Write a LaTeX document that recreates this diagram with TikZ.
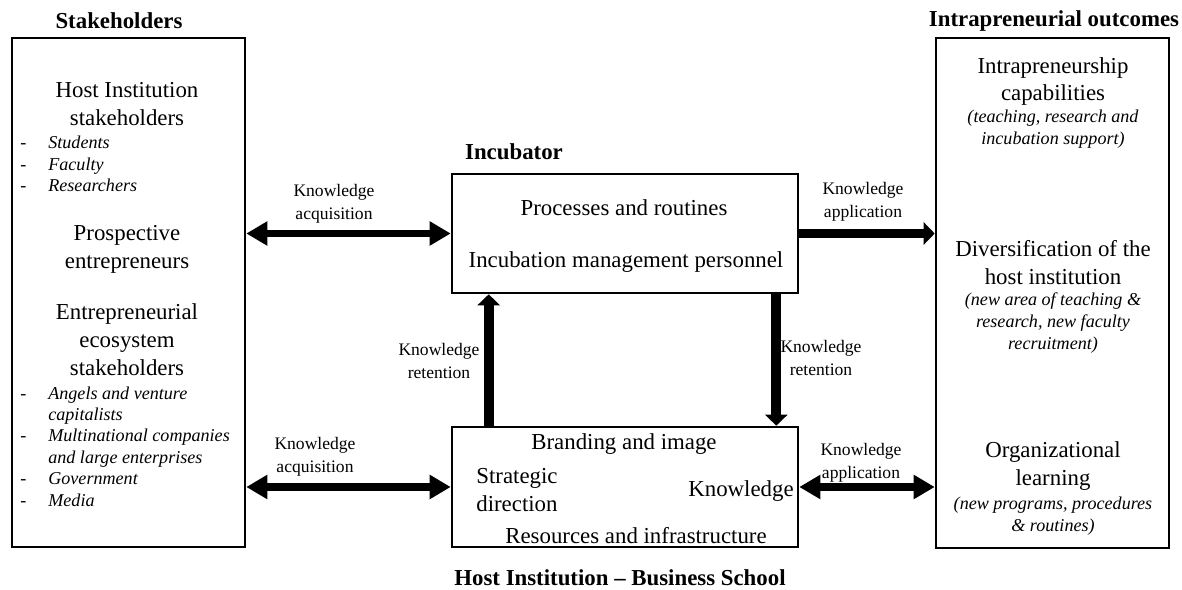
\documentclass[tikz,border=0pt]{standalone}
\usepackage{fontspec}
\setmainfont{Liberation Serif}
\usepackage{tikz}
\usetikzlibrary{arrows.meta, positioning, calc}
\usepackage{xcolor}

\newcommand{\dashitem}{\makebox[0.56cm][l]{\upshape -}}
\newcommand{\dashcont}{\hspace*{0.56cm}}

\begin{document}
\begin{tikzpicture}[
        x=0.02cm, y=-0.02cm,
        box/.style={rectangle, draw=black, line width=1.5pt, inner sep=0pt},
        big/.style={align=center, inner sep=0pt, font=\fontsize{13}{15.9}\selectfont},
        sub/.style={align=center, inner sep=0pt, font=\fontsize{10.3}{12.4}\selectfont\itshape},
        lst/.style={align=left, anchor=west, inner sep=0pt, font=\fontsize{10.3}{12.2}\selectfont\itshape},
        lbl/.style={align=center, inner sep=0pt, font=\fontsize{10}{13}\selectfont},
        ttl/.style={inner sep=0pt, font=\fontsize{13}{15}\selectfont\bfseries},
        dblarrow/.style={{Triangle[length=0.42cm, width=0.46cm]}-{Triangle[length=0.42cm, width=0.46cm]}, line width=4pt},
        fatarrow/.style={-{Triangle[length=0.22cm, width=0.44cm]}, line width=5.5pt},
    ]
        \useasboundingbox (0,0) rectangle (1182,590);

        % Cadres
        \node[box, minimum width=4.66cm, minimum height=10.18cm] (stake) at (128.5,292.5) {};
        \node[box, minimum width=4.66cm, minimum height=10.2cm] (outc) at (1052.5,293) {};
        \node[box, minimum width=6.92cm, minimum height=2.38cm] (inctop) at (625,233.5) {};
        \node[box, minimum width=6.92cm, minimum height=2.4cm] (incbot) at (625,487) {};

        % Titres
        \node[ttl] (ttlstake) at (119,21) {Stakeholders};
        \node[ttl] (ttloutc) at (1054,21) {Intrapreneurial outcomes};
        \node[ttl] (ttlinc) at (514,152) {Incubator};
        \node[ttl] (ttlhost) at (620,578) {Host Institution – Business School};

        % Parties prenantes
        \node[big] (host) at (127,104) {Host Institution\\stakeholders};
        \node[lst] (hostlist) at (20,164)
            {\dashitem Students\\ \dashitem Faculty\\ \dashitem Researchers};
        \node[big] (prosp) at (127,249) {Prospective\\entrepreneurs};
        \node[big] (eco) at (127,340) {Entrepreneurial\\ecosystem\\stakeholders};
        \node[lst] (ecolist) at (20,446.5)
            {\dashitem Angels and venture\\ \dashcont capitalists\\
             \dashitem Multinational companies\\ \dashcont and large enterprises\\
             \dashitem Government\\ \dashitem Media};

        % Incubateur
        \node[big] (proc) at (624,208) {Processes and routines};
        \node[big] (pers) at (626,262) {Incubation management personnel};
        \node[big] (brand) at (624,444) {Branding and image};
        \node[big, align=left, anchor=west] (strat) at (476,490.5) {Strategic\\direction};
        \node[big, anchor=east] (know) at (794,491) {Knowledge};
        \node[big] (res) at (636,536) {Resources and infrastructure};

        % Résultats
        \node[big] (capab) at (1053,81.5) {Intrapreneurship\\capabilities};
        \node[sub] (capabsub) at (1053,129) {(teaching, research and\\incubation support)};
        \node[big] (divers) at (1053,262.5) {Diversification of the\\host institution};
        \node[sub] (diverssub) at (1053,323)
            {(new area of teaching \&\\research, new faculty\\recruitment)};
        \node[big] (orgl) at (1053,466) {Organizational\\learning};
        \node[sub] (orglsub) at (1053,516) {(new programs, procedures\\\& routines)};

        % Flux de connaissances
        \draw[dblarrow] (stake.east |- inctop.west) -- (inctop.west);
        \draw[dblarrow] (stake.east |- incbot.west) -- (incbot.west);
        \draw[fatarrow] (inctop.east) -- (outc.west |- inctop.east);
        \draw[dblarrow] (incbot.east) -- (outc.west |- incbot.east);
        \draw[fatarrow] ([xshift=0.76cm]incbot.north west) -- ([xshift=0.76cm]inctop.south west);
        \draw[fatarrow] ([xshift=-0.46cm]inctop.south east) -- ([xshift=-0.46cm]incbot.north east);

        \node[lbl] (acqtop) at (334,203.5) {Knowledge\\acquisition};
        \node[lbl] (acqbot) at (315,457) {Knowledge\\acquisition};
        \node[lbl] (apptop) at (863,202) {Knowledge\\application};
        \node[lbl] (appbot) at (861,462.5) {Knowledge\\application};
        \node[lbl] (retleft) at (439,361) {Knowledge\\retention};
        \node[lbl] (retright) at (821,358) {Knowledge\\retention};
    \end{tikzpicture}
\end{document}
